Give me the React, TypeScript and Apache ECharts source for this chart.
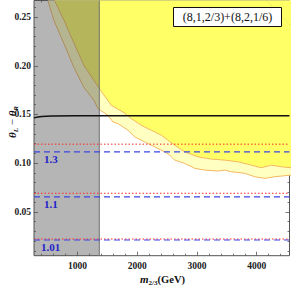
import React, { useEffect, useRef } from "react";
import * as echarts from "echarts";

// ---- data ----
const xRange = [272, 4549];
const yRange = [0.005, 0.267];
const xMajorTicks = [1000, 2000, 3000, 4000];
const xMinorTicks = [400, 600, 800, 1200, 1400, 1600, 1800, 2200, 2400, 2600, 2800, 3200, 3400, 3600, 3800, 4200, 4400];
const yMajorTicks = [0.05, 0.1, 0.15, 0.2, 0.25];
const yMinorTicks = [0.01, 0.02, 0.03, 0.04, 0.06, 0.07, 0.08, 0.09, 0.11, 0.12, 0.13, 0.14, 0.16, 0.17, 0.18, 0.19, 0.21, 0.22, 0.23, 0.24, 0.26];

// outer (pale yellow) exclusion boundary
const outerBoundary = [
  [506, 0.2667], [607, 0.2462], [774, 0.2227], [941, 0.1982], [1109, 0.1777],
  [1276, 0.1645], [1343, 0.156], [1511, 0.1491], [1594, 0.1423], [1678, 0.1406],
  [1846, 0.1338], [1958, 0.127], [2125, 0.1218], [2292, 0.1167], [2460, 0.1116],
  [2544, 0.1083], [2627, 0.1031], [2795, 0.0998], [2962, 0.0947], [3130, 0.0929],
  [3352, 0.0919], [3464, 0.0929], [3575, 0.0912], [3799, 0.0896], [3967, 0.0861],
  [4134, 0.0844], [4302, 0.0861], [4469, 0.0871], [4579, 0.0878],
];
// inner (bright yellow) exclusion boundary
const innerBoundary = [
  [618, 0.2667], [774, 0.2467], [941, 0.2232], [1109, 0.2002], [1276, 0.1849],
  [1388, 0.1747], [1566, 0.1594], [1762, 0.1525], [1901, 0.1458], [2068, 0.1389],
  [2236, 0.1338], [2403, 0.1287], [2515, 0.1236], [2627, 0.1185], [2795, 0.1116],
  [3017, 0.1065], [3240, 0.1042], [3464, 0.1031], [3687, 0.1014], [3910, 0.098],
  [4077, 0.0953], [4245, 0.098], [4412, 0.0963], [4579, 0.0953],
];
const faintBoundary = [[4168, 0.2667], [4575, 0.2411]];
const grayBand = [[272, 1365]];
const blackCurve = [[272, 0.1465], [400, 0.1478], [600, 0.1484], [1000, 0.1486], [4549, 0.1487]];
const redLevels = [0.1195, 0.0691, 0.0221];
const blueLevels = [0.1116, 0.0653, 0.0211];
const blueLabels = ["1.3", "1.1", "1.01"];
const blueLabelX = [556, 556, 551];
const legendText = "(8,1,2/3)+(8,2,1/6)";

const SERIF = "'Liberation Serif', 'DejaVu Serif', serif";

export default function App() {
  const ref = useRef<HTMLDivElement>(null);
  useEffect(() => {
    const chart = echarts.init(ref.current!, null, { renderer: "svg" });
    const tickFont = { fontFamily: SERIF, fontWeight: "bold" as const, fontSize: 9.5, color: "#222" };
    const mkX = (pos: string, vals: number[], len: number, labels: boolean) => ({
      type: "value", min: xRange[0], max: xRange[1], position: pos,
      axisLine: { show: false }, splitLine: { show: false },
      axisTick: { show: true, inside: true, length: len, customValues: vals, lineStyle: { color: "#555", width: 0.8 } },
      axisLabel: labels ? { show: true, customValues: xMajorTicks, margin: 5, formatter: (v: number) => String(v), ...tickFont } : { show: false },
    });
    const mkY = (pos: string, vals: number[], len: number, labels: boolean) => ({
      type: "value", min: yRange[0], max: yRange[1], position: pos,
      axisLine: { show: false }, splitLine: { show: false },
      axisTick: { show: true, inside: true, length: len, customValues: vals, lineStyle: { color: "#555", width: 0.8 } },
      axisLabel: labels ? { show: true, customValues: yMajorTicks, margin: 3, formatter: (v: number) => v.toFixed(2), ...tickFont } : { show: false },
    });
    const hline = (v: number) => [[xRange[0], v], [xRange[1], v]];
    const series: any[] = [
      {
        type: "line", data: outerBoundary, symbol: "none", z: 1,
        lineStyle: { color: "#F4B860", width: 1 },
        areaStyle: { color: "#FFFFC2", opacity: 1, origin: "end" },
      },
      {
        type: "line", data: innerBoundary, symbol: "none", z: 2,
        lineStyle: { color: "#F4B860", width: 1 },
        areaStyle: { color: "#FFFF66", opacity: 1, origin: "end" },
      },
      {
        type: "line", data: faintBoundary, symbol: "none", z: 2,
        lineStyle: { color: "#C9BC6A", width: 0.8, type: [1, 2] },
      },
      {
        type: "custom", z: 3, silent: true,
        data: grayBand,
        renderItem: (params: any, api: any) => {
          const p0 = api.coord([api.value(0), yRange[1]]);
          const p1 = api.coord([api.value(1), yRange[0]]);
          return {
            type: "group",
            children: [
              {
                type: "rect",
                shape: { x: p0[0], y: p0[1], width: p1[0] - p0[0], height: p1[1] - p0[1] },
                style: { fill: "rgb(79,79,79)", opacity: 0.42 },
              },
              {
                type: "line",
                shape: { x1: p1[0], y1: p0[1], x2: p1[0], y2: p1[1] },
                style: { stroke: "#707070", lineWidth: 1 },
              },
            ],
          };
        },
      },
      {
        type: "line", data: blackCurve, symbol: "none", smooth: true, z: 4,
        lineStyle: { color: "#111", width: 1.5 },
      },
    ];
    redLevels.forEach((v) => {
      series.push({
        type: "line", data: hline(v), symbol: "none", z: 5,
        lineStyle: { color: "#FF2A2A", width: 1, type: [1.5, 2] },
      });
    });
    blueLevels.forEach((v, i) => {
      series.push({
        type: "line", data: hline(v), symbol: "none", z: 6,
        lineStyle: { color: "#3D45E0", width: 1.2, type: [6, 4] },
        markPoint: {
          symbol: "rect", symbolSize: 0, silent: true,
          data: [{ coord: [blueLabelX[i], v] }],
          label: {
            show: true, formatter: blueLabels[i], offset: [0, 7], position: "inside",
            fontFamily: SERIF, fontWeight: "bold", fontSize: 11, color: "#2222CC",
          },
        },
      });
    });
    chart.setOption({
      animation: false,
      grid: { left: 34, right: 2.5, top: 0.5, bottom: 30.3, show: true, borderColor: "#555", borderWidth: 1, backgroundColor: "transparent" },
      xAxis: [
        mkX("bottom", xMajorTicks, 4, true),
        mkX("bottom", xMinorTicks, 2, false),
        mkX("top", xMajorTicks, 4, false),
        mkX("top", xMinorTicks, 2, false),
      ],
      yAxis: [
        mkY("left", yMajorTicks, 4, true),
        mkY("left", yMinorTicks, 2, false),
        mkY("right", yMajorTicks, 4, false),
        mkY("right", yMinorTicks, 2, false),
      ],
      series,
      graphic: [
        {
          type: "rect", z: 100,
          shape: { x: 173.5, y: 7.5, width: 108, height: 19 },
          style: { fill: "#fff", stroke: "#111", lineWidth: 1 },
        },
        {
          type: "text", z: 101, x: 227.5, y: 17,
          style: { text: legendText, font: `12px ${SERIF}`, fill: "#111", align: "center", verticalAlign: "middle" },
        },
        {
          type: "text", z: 101, x: 12, y: 122, rotation: Math.PI / 2,
          style: {
            text: "{a|θ}{s|L}{n| − }{a|θ}{s|R}",
            align: "center", verticalAlign: "middle",
            rich: {
              a: { fontFamily: SERIF, fontStyle: "italic", fontWeight: "bold", fontSize: 11, fill: "#111", lineHeight: 14 },
              n: { fontFamily: SERIF, fontSize: 11, fill: "#111", lineHeight: 14 },
              s: { fontFamily: SERIF, fontStyle: "italic", fontWeight: "bold", fontSize: 7, fill: "#111", verticalAlign: "bottom", lineHeight: 7 },
            },
          },
        },
        {
          type: "text", z: 101, x: 162.5, y: 279,
          style: {
            text: "{a|m}{s|2/3}{n|(GeV)}",
            align: "center", verticalAlign: "middle",
            rich: {
              a: { fontFamily: SERIF, fontStyle: "italic", fontWeight: "bold", fontSize: 11, fill: "#111", lineHeight: 14 },
              n: { fontFamily: SERIF, fontWeight: "bold", fontSize: 10.5, fill: "#111", lineHeight: 14 },
              s: { fontFamily: SERIF, fontWeight: "bold", fontSize: 7, fill: "#111", verticalAlign: "bottom", lineHeight: 7 },
            },
          },
        },
      ],
    });
    return () => chart.dispose();
  }, []);
  return <div ref={ref} style={{ position: "absolute", left: 0, top: 0, width: 292, height: 286 }} />;
}
